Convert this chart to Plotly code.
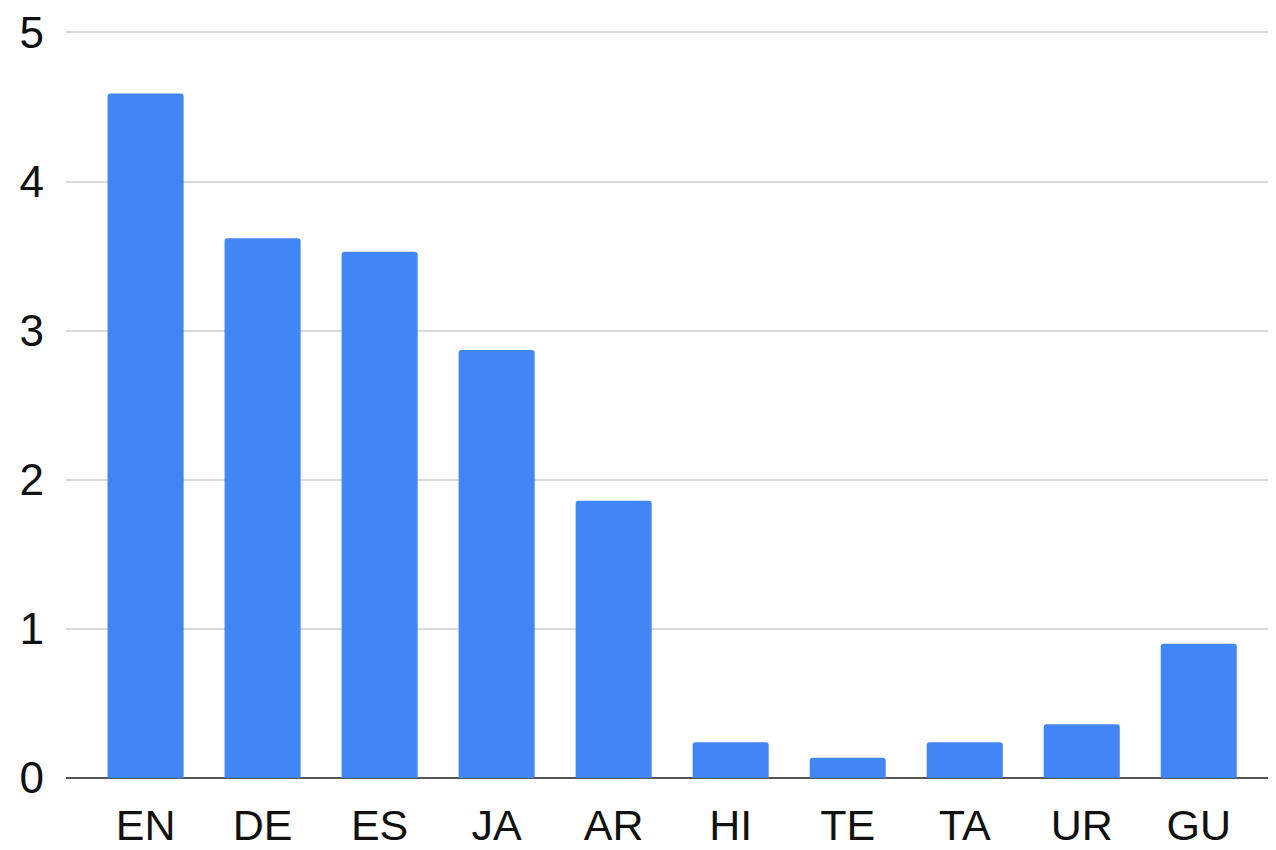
import plotly.graph_objects as go

languages = ["EN", "DE", "ES", "JA", "AR", "HI", "TE", "TA", "UR", "GU"]
values = [4.59, 3.62, 3.53, 2.87, 1.86, 0.24, 0.135, 0.24, 0.36, 0.90]
y_ticks = [0, 1, 2, 3, 4, 5]

fig = go.Figure(
    go.Bar(
        x=languages,
        y=values,
        marker=dict(color="#4285F4", line=dict(width=0)),
        hoverinfo="x+y",
    )
)

fig.update_layout(
    width=1276,
    height=850,
    margin=dict(l=58, r=8, t=23, b=80, autoexpand=False),
    paper_bgcolor="white",
    plot_bgcolor="white",
    bargap=0.35,
    barcornerradius=3,
    showlegend=False,
    font=dict(family="Liberation Sans, Arial, sans-serif", size=43, color="#111111"),
)

fig.update_xaxes(
    type="category",
    range=[-0.68, 9.66],
    showgrid=False,
    showline=False,
    zeroline=False,
    ticks="",
    automargin=False,
    tickfont=dict(size=43, color="#111111"),
    ticklabelstandoff=18,
)

fig.update_yaxes(
    range=[0, 5.01],
    tickvals=y_ticks,
    ticktext=[str(v) for v in y_ticks],
    showgrid=True,
    gridcolor="#d9d9d9",
    gridwidth=2,
    zeroline=True,
    zerolinecolor="#555555",
    zerolinewidth=2,
    showline=False,
    ticks="",
    automargin=False,
    ticklabeloverflow="allow",
    tickfont=dict(size=44, color="#111111"),
    ticklabelstandoff=21,
)

fig.write_html("out.html")
